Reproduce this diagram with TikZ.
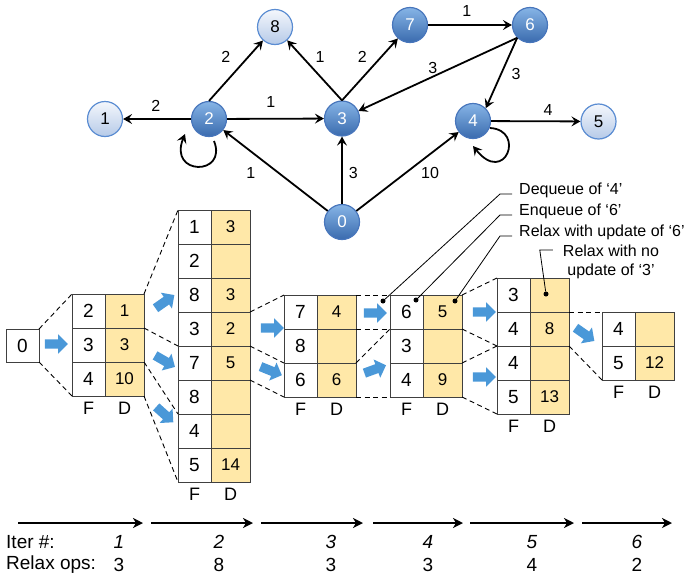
\documentclass[tikz,border=0pt]{standalone}
\usepackage{fontspec}
\setmainfont{Liberation Sans}
\usepackage{tikz}
\usetikzlibrary{arrows.meta,calc,positioning,shapes.arrows}

\definecolor{darkblueT}{HTML}{86B4E6}
\definecolor{darkblueB}{HTML}{3A6BAE}
\definecolor{darkblueE}{HTML}{4876BC}
\definecolor{lightblueT}{HTML}{F4F7FC}
\definecolor{lightblueB}{HTML}{B6CAE8}
\definecolor{lightblueE}{HTML}{5A8CD2}
\definecolor{distfill}{HTML}{FFE8A8}
\definecolor{flowblue}{HTML}{4A98D8}

\newcommand\PixUnit{1pt}
\newcommand\SizeTxt[1]{\fontsize{#1}{#1}\selectfont}

\tikzset{
  vtx/.style={
    shape = circle,
    minimum size = 35pt,
    inner sep = 0pt,
    line width = 1.2pt,
    font = \SizeTxt{17}
  },
  vtxdark/.style={
    vtx,
    draw = darkblueE,
    top color = darkblueT,
    bottom color = darkblueB,
    text = white
  },
  vtxlight/.style={
    vtx,
    draw = lightblueE,
    top color = lightblueT,
    bottom color = lightblueB
  },
  wedge/.style={
    line width = 1.8pt,
    -{Stealth[length=9pt,width=10pt,inset=3.5pt]}
  },
  wlbl/.style={
    font = \SizeTxt{16},
    inner sep = 0pt
  },
  fcell/.style={
    draw = black!75,
    line width = 1pt,
    minimum width = 33pt,
    minimum height = 34pt,
    inner sep = 0pt,
    outer sep = 0pt,
    font = \SizeTxt{19}
  },
  dcell/.style={
    fcell,
    fill = distfill,
    minimum width = 39pt,
    font = \SizeTxt{17}
  },
  fdlbl/.style={
    font = \SizeTxt{18},
    inner sep = 0pt
  },
  zoomline/.style={
    line width = 0.9pt,
    dash pattern = on 5pt off 3.5pt
  },
  flow/.style={
    single arrow,
    fill = flowblue,
    minimum height = 23pt,
    inner xsep = 0pt,
    inner ysep = 4.5pt,
    single arrow head extend = 5pt
  },
  blackdot/.style={
    shape = circle,
    fill = black,
    inner sep = 0pt,
    minimum size = 5pt
  },
  annot/.style={
    font = \SizeTxt{16},
    inner sep = 0pt
  },
  leader/.style={
    line width = 0.8pt
  },
  iterarrow/.style={
    line width = 2pt,
    -{Stealth[length=10pt,width=10pt,inset=3pt]}
  },
  itlbl/.style={
    font = \SizeTxt{19},
    inner sep = 0pt
  }
}

% table of frontier (F) and distances (D)
\newcommand\FDTable[5]{%
  \foreach \fv/\dv [count=\i] in {#5} {
    \node[fcell] (#1f\i) at ({#2+16.5},{#3+17+34*(\i-1)}) {\fv};
    \node[dcell, right=0pt of #1f\i] (#1d\i) {\dv};
  }
  \node[fdlbl, below=6pt of #1f#4] (#1F) {F};
  \node[fdlbl, below=6pt of #1d#4] (#1D) {D};
}

\begin{document}
\begin{tikzpicture}[x=\PixUnit, y=-\PixUnit]
  \useasboundingbox (0,0) rectangle (684,581);

  % graph
  \node[vtxlight] (n1) at (105,119) {1};
  \node[vtxdark] (n2) at (209,119) {2};
  \node[vtxdark] (n3) at (342,118.5) {3};
  \node[vtxlight] (n8) at (275,27) {8};
  \node[vtxdark] (n7) at (410,25) {7};
  \node[vtxdark] (n6) at (530,25) {6};
  \node[vtxdark] (n4) at (473,121) {4};
  \node[vtxlight] (n5) at (598.5,121.5) {5};
  \node[vtxdark] (n0) at (342,222) {0};

  \draw[wedge] (n2) -- (n1);
  \draw[wedge] (n2.north) -- (n8);
  \draw[wedge] (n2) -- (n3);
  \draw[wedge] (n3.north) -- (n8);
  \draw[wedge] (n3.north) -- (n7);
  \draw[wedge] (n7) -- (n6);
  \draw[wedge] (n6.south west) -- (n3);
  \draw[wedge] (n6.south west) -- (n4.north east);
  \draw[wedge] (n4) -- (n5);
  \draw[wedge] (n0) -- (n2);
  \draw[wedge] (n0) -- (n3);
  \draw[wedge] (n0) -- (n4);
  \draw[wedge] ($(n2)+(5,22)$) .. controls ($(n2)+(19,57)$) and ($(n2)+(-41,57)$) .. ($(n2)+(-24,15)$);
  \draw[wedge] ($(n4)+(17,7)$) .. controls ($(n4)+(53,9)$) and ($(n4)+(32,65)$) .. ($(n4)+(0,25)$);

  \node[wlbl] (w21) at (155.7,105.7) {2};
  \node[wlbl] (w28) at (225.7,56.7) {2};
  \node[wlbl] (w23) at (270.7,101.7) {1};
  \node[wlbl] (w38) at (320,57.3) {1};
  \node[wlbl] (w37) at (362.3,57.3) {2};
  \node[wlbl] (w76) at (466.7,11) {1};
  \node[wlbl] (w63) at (432.7,68.3) {3};
  \node[wlbl] (w64) at (516,74) {3};
  \node[wlbl] (w45) at (548,110) {4};
  \node[wlbl] (w02) at (250.7,173.3) {1};
  \node[wlbl] (w03) at (353.3,172.7) {3};
  \node[wlbl] (w04) at (430,172.7) {10};

  % queues
  \node[fcell, minimum height=33pt] (t0) at (22.5,345.5) {0};
  \FDTable{t1}{72}{294}{3}{2/1, 3/3, 4/10}
  \FDTable{t2}{178}{210}{8}{1/3, 2/{}, 8/3, 3/2, 7/5, 8/{}, 4/{}, 5/14}
  \FDTable{t3}{284}{295}{3}{7/4, 8/{}, 6/6}
  \FDTable{t4}{390}{295}{3}{6/5, 3/{}, 4/9}
  \FDTable{t5}{497}{278}{4}{3/{}, 4/8, 4/{}, 5/13}
  \FDTable{t6}{602}{312}{2}{4/{}, 5/12}

  \draw[zoomline] (t0.north east) -- (t1f1.north west);
  \draw[zoomline] (t0.south east) -- (t1f3.south west);
  \draw[zoomline] (t1d1.north east) -- (t2f1.north west);
  \draw[zoomline] (t1d1.south east) -- (t2f4.south west);
  \draw[zoomline] (t1d2.south east) -- (t2f6.south west);
  \draw[zoomline] (t1d3.south east) -- (t2f8.south west);
  \draw[zoomline] (t2d4.north east) -- (t3f1.north west);
  \draw[zoomline] (t2d4.south east) -- (t3f2.south west);
  \draw[zoomline] (t2d5.south east) -- (t3f3.south west);
  \draw[zoomline] (t3d1.north east) -- (t4f1.north west);
  \draw[zoomline] (t3d1.south east) -- (t4f1.south west);
  \draw[zoomline] (t3d3.north east) -- (t4f2.north west);
  \draw[zoomline] (t3d3.south east) -- (t4f3.south west);
  \draw[zoomline] (t4d1.north east) -- (t5f1.north west);
  \draw[zoomline] (t4d1.south east) -- (t5f2.south west);
  \draw[zoomline] (t4d3.north east) -- (t5f3.north west);
  \draw[zoomline] (t4d3.south east) -- (t5f4.south west);
  \draw[zoomline] (t5d2.north east) -- (t6f1.north west);
  \draw[zoomline] (t5d2.south east) -- (t6f2.south west);

  \node[flow] (fl01) at (54,344) {};
  \node[flow, rotate=35] (fl12a) at (163,303) {};
  \node[flow, rotate=-30] (fl12b) at (163,360) {};
  \node[flow, rotate=-42] (fl12c) at (163,413) {};
  \node[flow] (fl23a) at (270,328) {};
  \node[flow, rotate=-22] (fl23b) at (269,370) {};
  \node[flow] (fl34a) at (373,313) {};
  \node[flow, rotate=20] (fl34b) at (373,370) {};
  \node[flow] (fl45a) at (482,312) {};
  \node[flow] (fl45b) at (482,377) {};
  \node[flow, rotate=-35] (fl56) at (583,333) {};

  % annotations
  \node[blackdot] (bd1) at (383,301) {};
  \node[blackdot] (bd2) at (416,300) {};
  \node[blackdot] (bd3) at (455,301) {};
  \node[blackdot] (bd4) at (546,294) {};
  \node[annot, anchor=west] (ann1) at (519,190) {Dequeue of ‘4’};
  \node[annot, anchor=west] (ann2) at (519,211) {Enqueue of ‘6’};
  \node[annot, anchor=west] (ann3) at (519,232) {Relax with update of ‘6’};
  \node[annot, align=center] (ann4) at (611,262) {Relax with no\\[3pt]update of ‘3’};
  \draw[leader] (bd1) -- ([xshift=-19pt,yshift=-4pt]ann1.west) -- ([xshift=-7pt,yshift=-4pt]ann1.west);
  \draw[leader] (bd2) -- ([xshift=-19pt,yshift=-4pt]ann2.west) -- ([xshift=-7pt,yshift=-4pt]ann2.west);
  \draw[leader] (bd3) -- ([xshift=-19pt,yshift=-4pt]ann3.west) -- ([xshift=-7pt,yshift=-4pt]ann3.west);
  \draw[leader] (bd4) -- ([xshift=-23pt,yshift=12pt]ann4.west) -- ([xshift=-10pt,yshift=12pt]ann4.west);

  % iterations
  \foreach \xa/\xb [count=\k] in {18/143, 151/253, 261/363, 373/463, 470/574, 582/672} {
    \coordinate (ia\k) at (\xa,523);
    \coordinate (ib\k) at (\xb,523);
    \draw[iterarrow] (ia\k) -- (ib\k);
  }
  \node[itlbl, anchor=west] (iterhead) at (6,542) {Iter \#:};
  \node[itlbl, anchor=west] (relaxhead) at (6,565) {Relax ops:};
  \foreach \xc/\n/\r in {119/1/3, 219/2/8, 331/3/3, 428/4/3, 532/5/4, 637/6/2} {
    \node[itlbl] (it\n) at (\xc,542) {\textit{\n}};
    \node[itlbl] (rx\n) at (\xc,565) {\r};
  }
\end{tikzpicture}
\end{document}
